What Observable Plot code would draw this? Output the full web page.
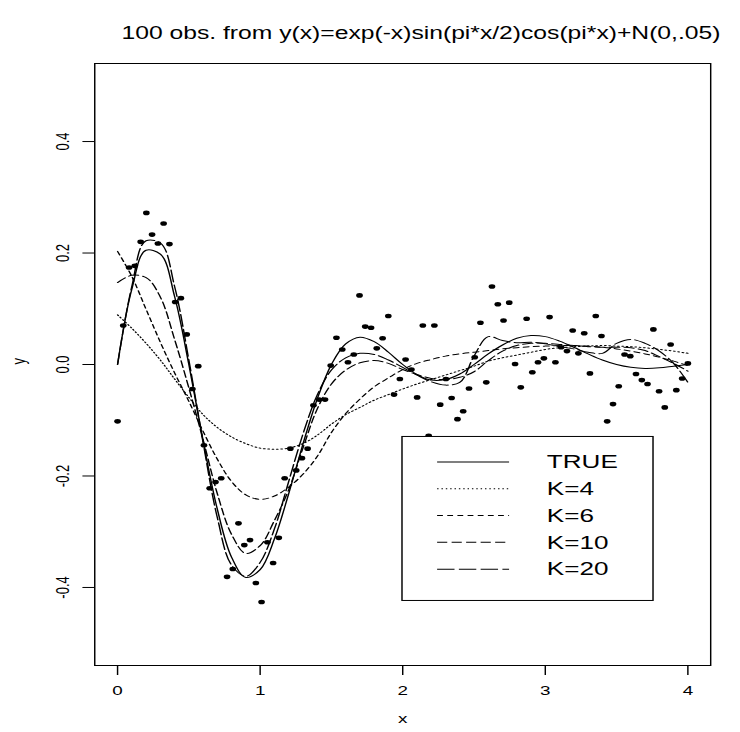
<!DOCTYPE html>
<html><head><meta charset="utf-8">
<script src="https://cdn.jsdelivr.net/npm/d3@7"></script>
<script src="https://cdn.jsdelivr.net/npm/@observablehq/plot@0.6"></script>
<style>
body{margin:0;background:#fff;}
#wrap{width:740px;height:732px;position:relative;background:#fff;font-family:"Liberation Sans",Arial,sans-serif;overflow:hidden;}
#title{position:relative;height:50px;}
#title span{position:absolute;left:421px;top:33px;white-space:nowrap;font-size:18px;line-height:18px;color:#000;transform:translate(-50%,-50%) scaleX(1.37);}
#chart svg{display:block;}
</style></head><body>
<div id="wrap"><div id="title"><span id="ttl"></span></div><div id="chart"></div></div>
<script>
const titleText = "100 obs. from y(x)=exp(-x)sin(pi*x/2)cos(pi*x)+N(0,.05)";

// observations
const obsX = [0,0.040,0.081,0.121,0.162,0.202,0.242,0.283,0.323,0.364,0.404,0.444,0.485,0.525,0.566,0.606,0.646,0.687,0.727,0.768,0.808,0.848,0.889,0.929,0.970,1.010,1.051,1.091,1.131,1.172,1.212,1.253,1.293,1.333,1.374,1.414,1.455,1.495,1.535,1.576,1.616,1.657,1.697,1.737,1.778,1.818,1.859,1.899,1.939,1.980,2.020,2.061,2.101,2.141,2.182,2.222,2.263,2.303,2.343,2.384,2.424,2.465,2.505,2.545,2.586,2.626,2.667,2.707,2.747,2.788,2.828,2.869,2.909,2.949,2.990,3.030,3.071,3.111,3.152,3.192,3.232,3.273,3.313,3.354,3.394,3.434,3.475,3.515,3.556,3.596,3.636,3.677,3.717,3.758,3.798,3.838,3.879,3.919,3.960,4.000];
const obsY = [-0.102,0.070,0.174,0.177,0.220,0.272,0.233,0.217,0.253,0.216,0.112,0.119,0.054,-0.044,-0.003,-0.145,-0.222,-0.211,-0.204,-0.381,-0.367,-0.285,-0.324,-0.315,-0.392,-0.426,-0.319,-0.356,-0.311,-0.204,-0.151,-0.190,-0.168,-0.151,-0.073,-0.063,-0.063,-0.002,0.048,0.027,0.004,0.018,0.124,0.068,0.066,0.029,0.047,0.087,-0.054,-0.026,0.009,-0.009,-0.059,0.070,-0.128,0.070,-0.072,-0.026,-0.060,-0.098,-0.084,-0.043,0.013,0.075,-0.032,0.140,0.108,0.079,0.111,0.001,-0.041,0.082,-0.014,0.004,0.011,0.085,0.004,0.031,0.024,0.061,0.020,0.056,-0.016,0.087,0.051,-0.102,-0.071,-0.039,0.018,0.015,-0.017,-0.028,-0.035,0.063,-0.048,-0.077,0.036,-0.046,-0.025,0.002];

// fitted curves, read on a 0.1 grid
const gridX = [0,0.1,0.2,0.3,0.4,0.5,0.6,0.7,0.8,0.9,1.0,1.1,1.2,1.3,1.4,1.5,1.6,1.7,1.8,1.9,2.0,2.1,2.2,2.3,2.4,2.5,2.6,2.7,2.8,2.9,3.0,3.1,3.2,3.3,3.4,3.5,3.6,3.7,3.8,3.9,4.0];
const yTrue = [0,0.135,0.205,0.198,0.122,0,-0.137,-0.260,-0.346,-0.382,-0.368,-0.313,-0.232,-0.143,-0.062,0,0.037,0.049,0.041,0.022,0,-0.018,-0.028,-0.027,-0.017,0,0.019,0.035,0.047,0.052,0.050,0.042,0.031,0.019,0.008,0,-0.005,-0.007,-0.006,-0.003,0];
const yK4 = [0.089,0.065,0.038,0.008,-0.026,-0.059,-0.090,-0.113,-0.130,-0.142,-0.150,-0.152,-0.150,-0.142,-0.127,-0.107,-0.090,-0.077,-0.064,-0.054,-0.044,-0.035,-0.027,-0.019,-0.011,-0.003,0.006,0.012,0.017,0.022,0.027,0.030,0.032,0.033,0.034,0.033,0.032,0.030,0.027,0.024,0.020];
const yK6 = [0.203,0.158,0.099,0.040,-0.015,-0.066,-0.120,-0.170,-0.210,-0.234,-0.242,-0.236,-0.220,-0.197,-0.165,-0.122,-0.088,-0.062,-0.040,-0.024,-0.009,0.002,0.009,0.015,0.019,0.022,0.025,0.028,0.030,0.032,0.033,0.034,0.034,0.033,0.031,0.028,0.024,0.019,0.013,0.006,-0.002];
const yK10 = [0.147,0.160,0.156,0.121,0.045,-0.042,-0.135,-0.232,-0.305,-0.339,-0.325,-0.280,-0.225,-0.150,-0.080,-0.035,-0.010,0.003,0.007,0.002,-0.009,-0.018,-0.025,-0.027,-0.023,-0.013,0.007,0.024,0.034,0.038,0.038,0.036,0.034,0.032,0.031,0.031,0.030,0.025,0.014,0.002,-0.012];
const yK20 = [0,0.140,0.222,0.218,0.140,0.008,-0.140,-0.275,-0.360,-0.380,-0.355,-0.295,-0.210,-0.125,-0.055,-0.010,0.012,0.020,0.018,0.008,-0.005,-0.019,-0.031,-0.037,-0.032,0.015,0.050,0.043,0.039,0.040,0.037,0.032,0.028,0.022,0.020,0.038,0.045,0.038,0.024,0.002,-0.032];

const seriesNames = ["TRUE","K=4","K=6","K=10","K=20"];
const seriesValues = [yTrue,yK4,yK6,yK10,yK20];
const seriesDash = [null,"1,2","4,3","7,3","12,3"];

const xTicks = [0,1,2,3,4];
const xTickLabels = ["0","1","2","3","4"];
const yTicks = [-0.4,-0.2,0,0.2,0.4];
const yTickLabels = ["-0.4","-0.2","0.0","0.2","0.4"];
const xLabel = "x", yLabel = "y";
const legendAt = [2.0,-0.13];

document.getElementById("ttl").textContent = titleText;

const points = obsX.map((x,i)=>({x, y: obsY[i]}));
const curves = seriesNames.map((name,k)=>gridX.map((x,i)=>({x, y: seriesValues[k][i], name})));

const W = 510, H = 682;
const plot = Plot.plot({
  width: W, height: H,
  marginLeft: 64.8, marginRight: 20.7, marginTop: 13, marginBottom: 67,
  style: {fontFamily: '"Liberation Sans", Arial, sans-serif', fontSize: "13px", color: "black", background: "white", overflow: "visible"},
  x: {domain: [-0.16,4.16], ticks: xTicks, tickFormat: d => xTickLabels[xTicks.indexOf(d)], tickSize: 10, tickPadding: 10, label: null},
  y: {domain: [-0.54,0.54], ticks: yTicks, tickFormat: d => yTickLabels[yTicks.indexOf(d)], tickSize: 8, tickPadding: 10, tickRotate: -90, label: null},
  marks: [
    Plot.frame({stroke: "black", strokeWidth: 1}),
    ...curves.map((c,k)=>Plot.line(c, {x: "x", y: "y", stroke: "black", strokeWidth: 1, strokeDasharray: seriesDash[k] || undefined, curve: "catmull-rom"})),
    Plot.dot(points, {x: "x", y: "y", r: 2.3, fill: "black", stroke: "none"}),
    Plot.text([xLabel], {text: d=>d, frameAnchor: "bottom", dy: 57, fontSize: 13, fill: "black"}),
    Plot.text([yLabel], {text: d=>d, frameAnchor: "left", dx: -52.4, rotate: -90, fontSize: 13, fill: "black"})
  ]
});

// legend (drawn in plot coordinates, anchored by the scales)
const sx = plot.scale("x"), sy = plot.scale("y");
const lx = sx.apply(legendAt[0]), ly = sy.apply(legendAt[1]);
const g = d3.select(plot).append("g").attr("class","legend").attr("text-anchor","start");
g.append("rect").attr("x",lx).attr("y",ly).attr("width",173).attr("height",164).attr("fill","white").attr("stroke","black").attr("stroke-width",1);
seriesNames.forEach((n,k)=>{
  const yy = ly + 25.5 + 26.8*k;
  const ln = g.append("line").attr("x1",lx+24.2).attr("x2",lx+73.8).attr("y1",yy).attr("y2",yy).attr("stroke","black").attr("stroke-width",1);
  if (seriesDash[k]) ln.attr("stroke-dasharray",seriesDash[k]);
  g.append("text").attr("x",lx+99.8).attr("y",yy).attr("dy","0.35em").attr("text-anchor","start").attr("font-size",18).attr("fill","black").text(n);
});

// horizontal stretch of the whole figure, as in the reference
plot.setAttribute("viewBox", `0 0 ${W} ${H}`);
plot.setAttribute("width", 740);
plot.setAttribute("height", H);
plot.setAttribute("preserveAspectRatio", "none");
plot.style.maxWidth = "none";
plot.style.width = "740px";
plot.style.height = H + "px";
document.getElementById("chart").appendChild(plot);
</script>
</body></html>
